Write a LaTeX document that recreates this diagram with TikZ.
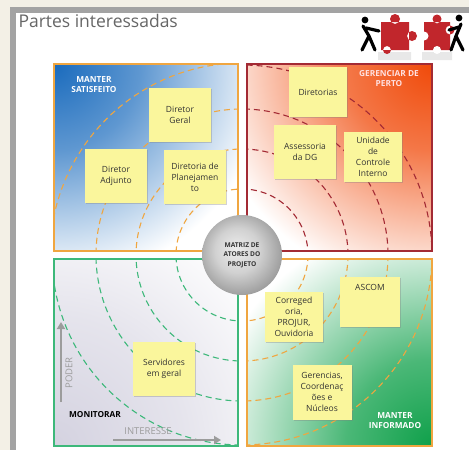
\documentclass[tikz,border=0pt]{standalone}
\usepackage{fontspec}
\setmainfont{Open Sans}
\usetikzlibrary{arrows.meta,shadows}

\definecolor{slidebg}{HTML}{F3F0E6}
\definecolor{framegray}{HTML}{A3A3A3}
\definecolor{titlegray}{HTML}{666666}
\definecolor{notefill}{HTML}{FAF69C}
\definecolor{tlblue}{HTML}{1A6BBD}
\definecolor{trorange}{HTML}{F04A0A}
\definecolor{brgreen}{HTML}{0FA04A}
\definecolor{bllilac}{HTML}{D4D2E0}
\definecolor{lineorange}{HTML}{F0A640}
\definecolor{linered}{HTML}{A32A34}
\definecolor{linegreen}{HTML}{3DB87A}
\definecolor{puzzlered}{HTML}{C1262C}
\definecolor{axisgray}{HTML}{9C9C9C}

% corner glows of the four quadrants
\pgfdeclareradialshading{blueglow}{\pgfpoint{0bp}{0bp}}{color(0bp)=(tlblue); color(8bp)=(tlblue!70!white); color(20bp)=(white); color(50bp)=(white)}
\pgfdeclareradialshading{orangeglow}{\pgfpoint{0bp}{0bp}}{color(0bp)=(trorange); color(8bp)=(trorange!75!white); color(21bp)=(white); color(50bp)=(white)}
\pgfdeclareradialshading{greenglow}{\pgfpoint{0bp}{0bp}}{color(0bp)=(brgreen); color(8bp)=(brgreen!75!white); color(21bp)=(white); color(50bp)=(white)}
\pgfdeclareradialshading{lilacglow}{\pgfpoint{0bp}{0bp}}{color(0bp)=(bllilac); color(12bp)=(bllilac!60!white); color(24bp)=(white); color(50bp)=(white)}
\pgfdeclareradialshading{ballglow}{\pgfpoint{-4bp}{4bp}}{color(0bp)=(white!93!black); color(14bp)=(white!82!black); color(27bp)=(white!62!black); color(50bp)=(white!62!black)}

\tikzset{
  note/.style={fill=notefill, minimum width=62pt, minimum height=54pt, align=center,
    inner sep=1pt, text=black!80, font=\fontsize{8.5}{11}\selectfont,
    drop shadow={opacity=0.35, shadow xshift=1.2pt, shadow yshift=-1.2pt}},
  quadlabel/.style={align=center, text=white, font=\bfseries\fontsize{8.3}{10}\selectfont},
  ring/.style={dashed, dash pattern=on 6pt off 4pt, line width=1.1pt},
  axisarrow/.style={axisgray, line width=2.6pt, -{Triangle[length=7pt,width=8pt]}},
  axislabel/.style={text=axisgray, font=\fontsize{9.5}{11}\selectfont},
}

\begin{document}
\begin{tikzpicture}[x=1pt,y=-1pt]
\useasboundingbox (0,0) rectangle (469,450);

% slide frame
\fill[slidebg] (0,0) rectangle (469,450);
\fill[framegray] (10,7) rectangle (469,13);
\fill[framegray] (10,7) rectangle (16,450);
\fill[white] (16,13) rectangle (469,450);
\node[anchor=west, text=titlegray, font=\fontsize{17.5}{20}\selectfont] (title) at (15,21) {Partes interessadas};

% puzzle pieces and the two pushers
\fill[black!15, opacity=0.6] (378,52) rectangle (411,60) (422,52) rectangle (452,60);
\fill[puzzlered] (381,22) rectangle (409,50) (395,19) circle (5) (412,36) circle (5) (387,50) circle (4);
\fill[puzzlered] (424,22) rectangle (450,50) (437,19) circle (4.5) (450,30) circle (4.5);
\fill[white] (424,36) circle (4.5) (437,50) circle (4);
\fill[black] (365,20) circle (3.4) (459,18) circle (3.4);
\draw[black, line width=3.2pt, line cap=round]
  (363,26) -- (369,36) (366,28) -- (379,31) (369,36) -- (362,50) (369,36) -- (375,50)
  (461,24) -- (456,36) (459,27) -- (449,30) (456,36) -- (451,50) (456,36) -- (463,50);

% quadrant backgrounds
\begin{scope}
\clip (54,64) rectangle (238,251);
\shade[shading=blueglow] (54,64) circle (270);
\end{scope}
\begin{scope}
\clip (247,64) rectangle (432,251);
\shade[shading=orangeglow] (432,64) circle (270);
\end{scope}
\begin{scope}
\clip (54,259) rectangle (238,446);
\shade[shading=lilacglow] (54,446) circle (270);
\end{scope}
\begin{scope}
\clip (247,259) rectangle (432,446);
\shade[shading=greenglow] (432,446) circle (270);
\end{scope}

% dashed rings round the matrix centre
\coordinate (ctr) at (242,255);
\begin{scope}
\clip (54,64) rectangle (238,251);
\foreach \r in {66,106,146,192} \draw[ring, lineorange] (ctr) circle (\r);
\end{scope}
\begin{scope}
\clip (247,64) rectangle (432,251);
\foreach \r in {66,106,146,190} \draw[ring, linered] (ctr) circle (\r);
\end{scope}
\begin{scope}
\clip (54,259) rectangle (238,446);
\foreach \r in {66,106,146,190} \draw[ring, linegreen] (ctr) circle (\r);
\end{scope}
\begin{scope}
\clip (247,259) rectangle (432,446);
\foreach \r in {66,106,146,190} \draw[ring, lineorange] (ctr) circle (\r);
\end{scope}

% quadrant borders
\draw[lineorange, line width=1.2pt] (54,64) rectangle (238,251);
\draw[linered, line width=1.2pt] (247,64) rectangle (432,251);
\draw[linegreen, line width=1.2pt] (54,259) rectangle (238,446);
\draw[lineorange, line width=1.2pt] (247,259) rectangle (432,446);

% quadrant names
\node[quadlabel] (satisfeito) at (94,85) {MANTER\\SATISFEITO};
\node[quadlabel, text=white!88!red] (perto) at (389,79) {GERENCIAR DE\\PERTO};
\node[quadlabel, text=black] (monitorar) at (95,415) {MONITORAR};
\node[quadlabel] (informado) at (395,421) {MANTER\\INFORMADO};

% axes
\coordinate (poder0) at (61,402);
\coordinate (poder1) at (61,322);
\draw[axisarrow] (poder0) -- (poder1);
\node[axislabel, rotate=90] (poder) at (69,373) {PODER};
\coordinate (inter0) at (113,440);
\coordinate (inter1) at (221,440);
\draw[axisarrow] (inter0) -- (inter1);
\node[axislabel] (interesse) at (148,431) {INTERESSE};

% stakeholders
\node[note] (geral) at (180,115) {Diretor\\Geral};
\node[note] (adjunto) at (116,176) {Diretor\\Adjunto};
\node[note] (planej) at (195,177) {Diretoria de\\Planejamen\\to};
\node[note, minimum width=58pt, minimum height=50pt] (diretorias) at (318,92) {Diretorias};
\node[note] (assessoria) at (305,152) {Assessoria\\da DG};
\node[note, minimum width=58pt, minimum height=50pt] (uci) at (373,157) {Unidade\\de\\Controle\\Interno};
\node[note] (servidores) at (164,369) {Servidores\\em geral};
\node[note, minimum width=58pt, minimum height=50pt] (correg) at (294,317) {Correged\\oria,\\PROJUR,\\Ouvidoria};
\node[note, minimum width=60pt, minimum height=50pt] (ascom) at (370,302) {ASCOM\\[18pt]};
\node[note, minimum width=59pt, minimum height=55pt] (gerencias) at (322,392) {Gerencias,\\Coordenaç\\ões e\\Núcleos};

% matrix centre
\shade[shading=ballglow] (ctr) circle (40);
\node[align=center, text=black!80, font=\bfseries\fontsize{6.6}{9.5}\selectfont] (matriz) at (ctr) {MATRIZ DE\\ATORES DO\\PROJETO};
\end{tikzpicture}
\end{document}
